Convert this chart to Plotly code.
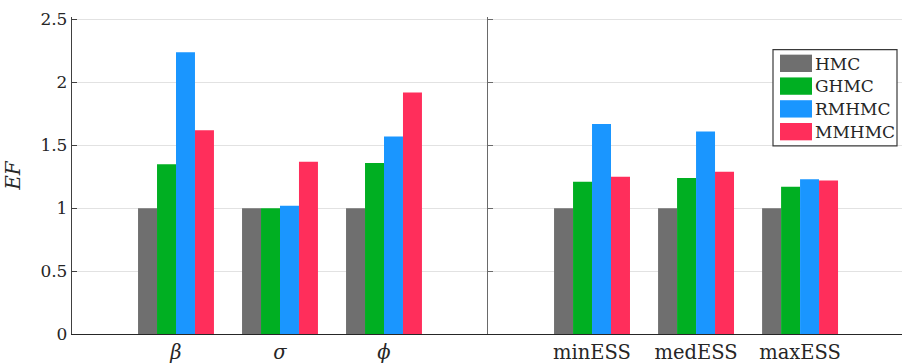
import plotly.graph_objects as go

# Efficiency factors (EF) relative to HMC
params = ["<i>β</i>", "<i>σ</i>", "<i>ϕ</i>"]
ess_stats = ["minESS", "medESS", "maxESS"]
methods = ["HMC", "GHMC", "RMHMC", "MMHMC"]
colors = ["#6f6f6f", "#00af22", "#1a96ff", "#ff2e5b"]

ef_params = {
    "HMC":   [1.00, 1.00, 1.00],
    "GHMC":  [1.35, 1.00, 1.36],
    "RMHMC": [2.24, 1.02, 1.57],
    "MMHMC": [1.62, 1.37, 1.92],
}
ef_ess = {
    "HMC":   [1.00, 1.00, 1.00],
    "GHMC":  [1.21, 1.24, 1.17],
    "RMHMC": [1.67, 1.61, 1.23],
    "MMHMC": [1.25, 1.29, 1.22],
}

FONT = "DejaVu Serif"
AXIS_COLOR = "#262626"
GRID_COLOR = "#e2e2e2"

fig = go.Figure()
for name, col in zip(methods, colors):
    fig.add_trace(go.Bar(x=params, y=ef_params[name], name=name, marker_color=col,
                         marker_line_width=0, xaxis="x", yaxis="y", showlegend=False))
    fig.add_trace(go.Bar(x=ess_stats, y=ef_ess[name], name=name, marker_color=col,
                         marker_line_width=0, xaxis="x2", yaxis="y2", showlegend=False))

split = 416 / 830

common_x = dict(type="category", showgrid=False, ticks="", showline=True,
                linecolor=AXIS_COLOR, linewidth=1.3, zeroline=False,
                tickfont=dict(family=FONT, size=19.5, color="#262626"))
common_y = dict(range=[0, 2.52], tickvals=[0, 0.5, 1, 1.5, 2, 2.5],
                showgrid=True, gridcolor=GRID_COLOR,
                gridwidth=1.2, zeroline=False, showline=True, linewidth=1.3,
                ticks="inside", ticklen=5, tickwidth=1)

fig.update_layout(
    width=902, height=364,
    margin=dict(l=72, r=0, t=17, b=27),
    plot_bgcolor="white", paper_bgcolor="white",
    font=dict(family=FONT),
    barmode="group", bargap=0.27, bargroupgap=0,
    xaxis=dict(domain=[0, split], range=[-1, 3], anchor="y", **common_x),
    xaxis2=dict(domain=[split, 1], range=[-1, 2.98], anchor="y2", **common_x),
    yaxis=dict(anchor="x", linecolor="#404040", tickcolor="#404040",
               tickfont=dict(family=FONT, size=17, color="#262626"),
               title=dict(text="<i>EF</i>", standoff=14,
                          font=dict(family=FONT, size=20, color="#262626")),
               **common_y),
    yaxis2=dict(anchor="x2", matches="y", showticklabels=False,
                linecolor="#6a6a6a", tickcolor="#6a6a6a", **common_y),
)

# Legend box with large swatches, built from the method list
px_w, px_h, left, top = 830, 320, 72, 17
def px(xp):
    return (xp - left) / px_w
def py(yp):
    return (top + px_h - yp) / px_h

fig.add_shape(type="rect", xref="paper", yref="paper",
              x0=px(773), x1=px(897), y0=py(147), y1=py(50),
              line=dict(color="#3a3a3a", width=1.2), fillcolor="white", layer="above")
for i, (name, col) in enumerate(zip(methods, colors)):
    y_top = 55 + i * 23
    fig.add_shape(type="rect", xref="paper", yref="paper",
                  x0=px(780), x1=px(812), y0=py(y_top + 17.5), y1=py(y_top),
                  line=dict(width=0), fillcolor=col, layer="above")
    fig.add_annotation(xref="paper", yref="paper", x=px(813), y=py(y_top + 9),
                       text=name, showarrow=False, xanchor="left", yanchor="middle",
                       font=dict(family=FONT, size=17, color="#262626"))

fig.write_html("out.html")
